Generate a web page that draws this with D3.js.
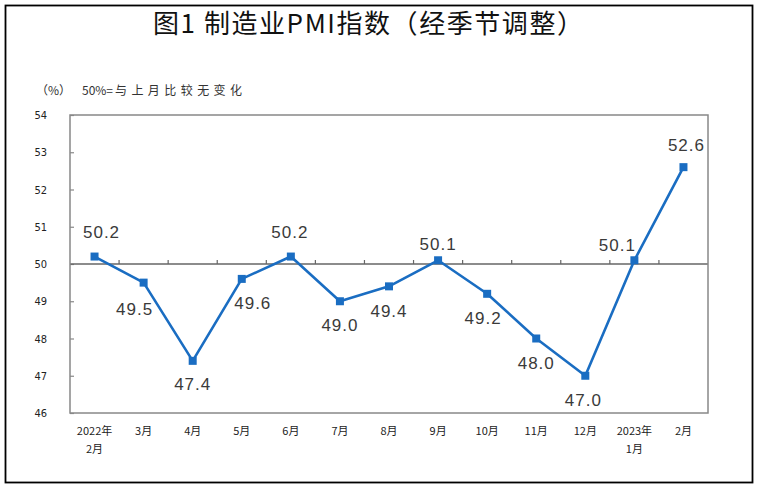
<!DOCTYPE html>
<html>
<head>
<meta charset="utf-8">
<script src="https://cdn.jsdelivr.net/npm/d3@7"></script>
<style>
  html, body { margin: 0; padding: 0; background: #fff; }
  svg { display: block; }
</style>
</head>
<body>
<svg id="chart" width="759" height="488"></svg>
<script>
// ---- data ----
const categories = ["2022年\n2月", "3月", "4月", "5月", "6月", "7月", "8月", "9月", "10月", "11月", "12月", "2023年\n1月", "2月"];
const pmiValues = [50.2, 49.5, 47.4, 49.6, 50.2, 49.0, 49.4, 50.1, 49.2, 48.0, 47.0, 50.1, 52.6];
const yTicks = [46, 47, 48, 49, 50, 51, 52, 53, 54];
const titleText = "图1 制造业PMI指数（经季节调整）";
const unitText = "（%）";
const notePrefix = "50%=";
const noteText = "与上月比较无变化";

// ---- layout / style ----
const W = 759, H = 488;
const plot = { left: 70, right: 708, top: 115, bottom: 413 };
const blue = "#1a6dc2";
const labelOffsets = [[7,-24],[-9,27],[0,24],[11,25],[-1,-24],[0,24],[0,25],[0,-16],[-4,25],[0,25],[-2,25],[-17,-15],[3,-22]];

const svg = d3.select("#chart");
svg.append("rect").attr("width", W).attr("height", H).attr("fill", "#fff");

// outer frame
svg.append("rect").attr("x", 5.5).attr("y", 5.5).attr("width", 747).attr("height", 477)
  .attr("fill", "none").attr("stroke", "#000").attr("stroke-width", 1.8);

// title
svg.append("text").attr("x", 153).attr("y", 33).attr("text-anchor", "start")
  .attr("font-family", "'Noto Sans CJK SC', sans-serif").attr("font-size", 26)
  .attr("font-weight", 400).attr("fill", "#111")
  .attr("textLength", 430).attr("lengthAdjust", "spacing")
  .text(titleText);

// unit + note
const subFont = "'Noto Sans CJK SC', sans-serif";
svg.append("text").attr("x", 36).attr("y", 95).attr("font-family", subFont)
  .attr("font-size", 12).attr("fill", "#333").text(unitText);
svg.append("text").attr("x", 82).attr("y", 95).attr("font-family", subFont)
  .attr("font-size", 12).attr("fill", "#333").text(notePrefix);
svg.append("text").attr("x", 115).attr("y", 95).attr("font-family", subFont)
  .attr("font-size", 12).attr("fill", "#333")
  .attr("textLength", 127).attr("lengthAdjust", "spacing").text(noteText);

const x = d3.scaleBand().domain(categories).range([plot.left, plot.right]).padding(0);
const y = d3.scaleLinear().domain([46, 54]).range([plot.bottom, plot.top]);

// y axis
const yAxis = svg.append("g").attr("transform", `translate(${plot.left},0)`)
  .call(d3.axisLeft(y).tickValues(yTicks).tickSize(-4).tickPadding(23).tickFormat(d3.format("d")));
yAxis.select(".domain").remove();
yAxis.selectAll(".tick line").attr("stroke", "#888").attr("stroke-width", 1.2);
yAxis.selectAll(".tick text").attr("font-family", "'Liberation Sans Narrow', 'DejaVu Sans Condensed', sans-serif")
  .attr("font-size", 11).attr("fill", "#222");

// 50 reference line
svg.append("line").attr("x1", plot.left).attr("x2", plot.right)
  .attr("y1", y(50)).attr("y2", y(50)).attr("stroke", "#666").attr("stroke-width", 1.3);

// category boundary ticks on the 50 line
svg.append("g").selectAll("line").data(categories.slice(1)).join("line")
  .attr("x1", d => x(d)).attr("x2", d => x(d))
  .attr("y1", y(50)).attr("y2", y(50) - 4)
  .attr("stroke", "#666").attr("stroke-width", 1.2);

// plot frame
svg.append("rect").attr("x", plot.left).attr("y", plot.top)
  .attr("width", plot.right - plot.left).attr("height", plot.bottom - plot.top)
  .attr("fill", "none").attr("stroke", "#888").attr("stroke-width", 1.5);

// x axis labels
const xAxis = svg.append("g").attr("transform", `translate(0,${plot.bottom})`)
  .call(d3.axisBottom(x).tickSize(0).tickPadding(18).tickFormat(""));
xAxis.select(".domain").remove();
xAxis.selectAll(".tick").each(function(d) {
  const t = d3.select(this).select("text");
  const lines = d.split("\n");
  t.attr("font-family", "'Liberation Sans Narrow', 'Noto Sans CJK SC', sans-serif")
    .attr("font-size", 11).attr("fill", "#222").attr("y", 18).attr("dy", 0);
  lines.forEach((ln, i) => {
    t.append("tspan").attr("x", 0).attr("dy", i === 0 ? "0.35em" : 18).text(ln);
  });
});

// series line
const line = d3.line().x((d, i) => x(categories[i]) + x.bandwidth() / 2).y(d => y(d));
svg.append("path").datum(pmiValues).attr("d", line)
  .attr("fill", "none").attr("stroke", blue).attr("stroke-width", 2.6).attr("stroke-linejoin", "round");

// markers
svg.append("g").selectAll("rect").data(pmiValues).join("rect")
  .attr("x", (d, i) => x(categories[i]) + x.bandwidth() / 2 - 4)
  .attr("y", d => y(d) - 4)
  .attr("width", 8).attr("height", 8).attr("fill", blue);

// data labels
svg.append("g").selectAll("text").data(pmiValues).join("text")
  .attr("x", (d, i) => x(categories[i]) + x.bandwidth() / 2 + labelOffsets[i][0])
  .attr("y", (d, i) => y(d) + labelOffsets[i][1])
  .attr("text-anchor", "middle").attr("dominant-baseline", "central")
  .attr("font-family", "'Liberation Sans', Arial, sans-serif").attr("font-size", 17)
  .attr("letter-spacing", 1).attr("fill", "#3a3a3a")
  .text(d => d3.format(".1f")(d));
</script>
</body>
</html>
